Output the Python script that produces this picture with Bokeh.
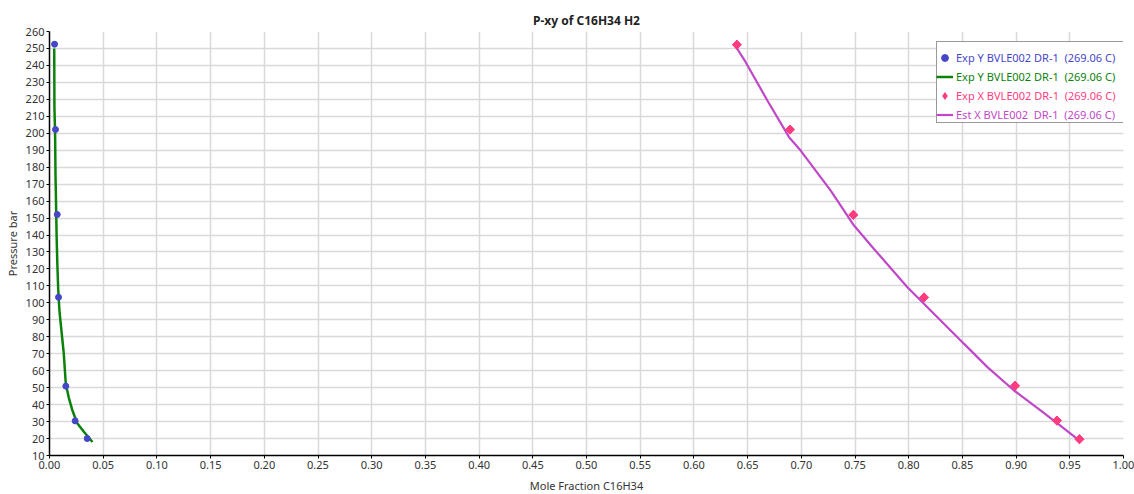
import math
from bokeh.plotting import figure
from bokeh.models import (Range1d, FixedTicker, NumeralTickFormatter, Legend, LegendItem)
from bokeh.core.properties import value
from bokeh.embed import file_html
from bokeh.resources import INLINE

# ---- data ----
exp_y_x = [0.0047, 0.0056, 0.0072, 0.0084, 0.0152, 0.0239, 0.0351]
exp_y_p = [252.5, 202.2, 152.1, 103.3, 50.9, 30.4, 20.0]

est_y_x = [0.0044, 0.0046, 0.0052, 0.0056, 0.0060, 0.0066, 0.0072, 0.0081, 0.0093, 0.0109,
           0.0133, 0.0152, 0.0180, 0.0211, 0.0258, 0.0320, 0.0400]
est_y_p = [250, 215, 200, 175, 162, 140, 125, 108, 95, 85, 70, 52, 44, 37, 29, 24, 18]

exp_x_x = [0.640, 0.6895, 0.7485, 0.8143, 0.899, 0.938, 0.959]
exp_x_p = [252.2, 202.2, 151.9, 103.2, 51.1, 30.6, 19.6]

est_x_x = [0.6398, 0.6482, 0.6684, 0.6886, 0.6994, 0.7274, 0.7491, 0.7677, 0.7988,
           0.8128, 0.8516, 0.8733, 0.8981, 0.9230, 0.9385, 0.9587]
est_x_p = [250.4, 241.9, 219.3, 197.7, 189.8, 166.2, 145.6, 131.8, 109.2,
           100.4, 75.8, 62.1, 48.3, 36.5, 29.0, 18.9]

x_ticks = [round(i * 0.05, 2) for i in range(21)]
y_ticks = list(range(10, 261, 10))

labels = ["Exp Y BVLE002 DR-1  (269.06 C)",
          "Exp Y BVLE002 DR-1  (269.06 C)",
          "Exp X BVLE002 DR-1  (269.06 C)",
          "Est X BVLE002  DR-1  (269.06 C)"]

BLUE = "#4646c8"
GREEN = "#0a820a"
PINK = "#ff3c7d"
MAGENTA = "#c048c8"
colors = [BLUE, GREEN, PINK, MAGENTA]

FONT = "Noto Sans"

FRAME_W = 1074
FRAME_H = 424

p = figure(frame_width=FRAME_W, frame_height=FRAME_H, output_backend="svg", toolbar_location=None,
           x_range=Range1d(0, 1), y_range=Range1d(10, 260),
           min_border_left=49, min_border_top=31, min_border_right=11, min_border_bottom=39,
           title="P-xy of C16H34 H2")
p.outline_line_color = None
p.background_fill_color = "white"
p.border_fill_color = "white"

p.title.align = "center"
p.title.text_font = FONT
p.title.text_font_size = "12px"
p.title.text_font_style = "bold"
p.title.text_color = "#222222"
p.title.standoff = 5

for ax in (p.xaxis[0], p.yaxis[0]):
    ax.axis_line_color = "black"
    ax.axis_line_width = 1.5
    ax.major_tick_line_color = "black"
    ax.major_tick_in = 0
    ax.major_tick_out = 3
    ax.minor_tick_line_color = None
    ax.major_label_text_font = FONT
    ax.major_label_text_font_size = "11px"
    ax.major_label_text_color = "#333333"
    ax.major_label_standoff = 2
    ax.axis_label_text_font = FONT
    ax.axis_label_text_font_size = "11px"
    ax.axis_label_text_font_style = "normal"
    ax.axis_label_text_color = "#333333"

p.xaxis[0].axis_label_standoff = 6
p.yaxis[0].axis_label_standoff = 3

p.xaxis[0].ticker = FixedTicker(ticks=x_ticks)
p.xaxis[0].formatter = NumeralTickFormatter(format="0.00")
p.yaxis[0].ticker = FixedTicker(ticks=y_ticks)
p.xaxis[0].axis_label = "Mole Fraction C16H34"
p.yaxis[0].axis_label = "Pressure bar"

p.xgrid.grid_line_color = "#d9d9d9"
p.ygrid.grid_line_color = "#d9d9d9"
p.xgrid.grid_line_width = 1.5
p.ygrid.grid_line_width = 1.5

r_est_y = p.line(est_y_x, est_y_p, line_color=GREEN, line_width=2.5)
r_est_x = p.line(est_x_x, est_x_p, line_color=MAGENTA, line_width=2.2)
r_exp_y = p.scatter(exp_y_x, exp_y_p, marker="circle", size=6, fill_color=BLUE, line_color=BLUE)
# diamond glyph (used for the legend), fully covered by the rotated squares drawn on top
r_exp_x_leg = p.scatter(exp_x_x, exp_x_p, marker="diamond", size=9, fill_color=PINK, line_color=PINK)
r_exp_x = p.scatter(exp_x_x, exp_x_p, marker="square", size=6.5, angle=math.pi / 4,
                    fill_color=PINK, line_color=PINK)
renderers = [r_exp_y, r_est_y, r_exp_x_leg, r_est_x]

# legend frame (border/background only)
dummy = p.scatter(x=[], y=[], alpha=0)
pad = 3
row_h = 17
spacing = 2
leg_top = 12
leg_x = 887
box_h = 4 * row_h + 3 * spacing + 2 * pad
frame_leg = Legend(items=[LegendItem(label=value(""), renderers=[dummy])],
                   location=(leg_x, FRAME_H - leg_top - box_h),
                   padding=pad, glyph_width=17, glyph_height=4 * row_h + 3 * spacing,
                   label_height=4 * row_h + 3 * spacing, label_width=166, label_standoff=3,
                   border_line_color="#333333", border_line_width=1.5,
                   background_fill_color="white", background_fill_alpha=1.0)
p.add_layout(frame_leg)

for i, (lab, col, r) in enumerate(zip(labels, colors, renderers)):
    lg = Legend(items=[LegendItem(label=value(lab), renderers=[r])],
                location=(leg_x, FRAME_H - leg_top - i * (row_h + spacing) - (row_h + 2 * pad)),
                padding=pad, glyph_width=17, glyph_height=row_h, label_height=row_h,
                label_standoff=3, spacing=spacing,
                label_text_font=FONT, label_text_font_size="11px", label_text_color=col,
                border_line_color=None, background_fill_alpha=0)
    p.add_layout(lg)

open("out.html", "w").write(file_html(p, INLINE))
